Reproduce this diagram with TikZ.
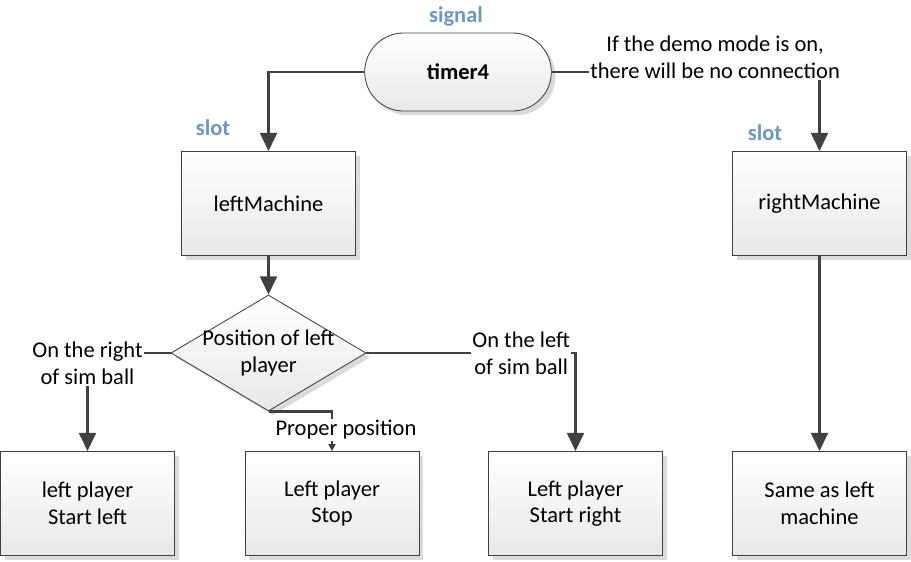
\documentclass[tikz,border=0pt]{standalone}
\usepackage{fontspec}
\setmainfont{Carlito}
\usetikzlibrary{shapes.geometric,shapes.misc,shadows,arrows.meta}
\definecolor{slotblue}{RGB}{108,152,198}
\definecolor{linegray}{RGB}{64,64,64}

\begin{document}
\begin{tikzpicture}[x=0.025cm, y=-0.025cm,
    every node/.style={font=\fontsize{16}{19}\selectfont, align=center},
    strong/.style={font=\fontsize{16}{19}\selectfont\bfseries},
    tag/.style={strong, text=slotblue},
    shade box/.style={draw=linegray, line width=0.6pt, top color=white, bottom color=black!9,
      drop shadow={shadow xshift=3pt, shadow yshift=-3pt, fill=black!14, opacity=1}},
    process/.style={shade box, rectangle, minimum width=4.35cm, minimum height=2.6cm},
    terminal/.style={shade box, rounded rectangle, minimum width=4.9cm, minimum height=1.95cm},
    decision/.style={shade box, diamond, minimum width=4.875cm, minimum height=2.9cm, inner sep=0pt},
    conn/.style={draw=linegray, line width=2pt, -{Triangle[length=13pt,width=12pt]}},
    onpath/.style={fill=white, inner sep=1pt}]
  \useasboundingbox (0,0) rectangle (911,561);

  \node[tag] (sig) at (456,17) {signal};
  \node[terminal, strong] (timer) at (458,72) {timer4};
  \node[tag] (lslot) at (213,128) {slot};
  \node[tag] (rslot) at (765,133) {slot};
  \node[process] (lmach) at (268.5,203.5) {leftMachine};
  \node[process] (rmach) at (819.5,203.5) {rightMachine};
  \node[decision, label=center:{Position of left\\player}] (pos) at (268.5,353) {};
  \node[process] (lstart) at (87.5,503.5) {left player\\Start left};
  \node[process] (lstop) at (332,503.5) {Left player\\Stop};
  \node[process] (rstart) at (575.5,503.5) {Left player\\Start right};
  \node[process] (same) at (819.5,503.5) {Same as left\\machine};

  \draw[conn] (timer.west) -| (lmach.north);
  \draw[conn] (timer.east) -| node[onpath, pos=0.305, yshift=0.375cm] (demo)
    {If the demo mode is on,\\there will be no connection} (rmach.north);
  \draw[conn] (lmach) -- (pos);
  \draw[conn] (rmach) -- (same);
  \draw[conn] (pos.west) -| node[onpath, pos=0.5, yshift=-0.25cm] (onright)
    {On the right\\of sim ball} (lstart.north);
  \draw[conn] (pos.east) -| node[onpath, pos=0.37] (onleft)
    {On the left\\of sim ball} (rstart.north);
  \draw[conn, -{Triangle[length=5pt,width=5pt]}] (pos.south) -| node[onpath, pos=0.73, xshift=0.35cm] (proper)
    {Proper position} (lstop.north);
\end{tikzpicture}
\end{document}
